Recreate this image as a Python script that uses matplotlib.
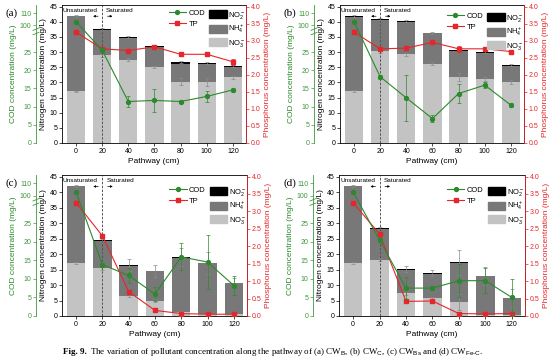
import numpy as np
import matplotlib
matplotlib.use('Agg')
import matplotlib.pyplot as plt
from matplotlib.patches import Patch
from matplotlib.lines import Line2D

plt.rcParams['font.family'] = ['Liberation Sans', 'DejaVu Sans']
plt.rcParams['mathtext.fontset'] = 'custom'
plt.rcParams['mathtext.rm'] = 'Liberation Sans'
plt.rcParams['mathtext.it'] = 'Liberation Sans:italic'
plt.rcParams['mathtext.bf'] = 'Liberation Sans:bold'

pathway = [0, 20, 40, 60, 80, 100, 120]

# (a)
no3_a = [17.0, 28.9, 27.5, 25.1, 20.2, 20.0, 21.6]
nh4_a = [24.8, 8.2, 7.1, 6.6, 6.0, 6.0, 3.5]
no2_a = [0.1, 0.5, 0.3, 0.3, 0.5, 0.5, 0.2]
no3_err_a = [0.3, 0.5, 0.5, 0.4, 1.2, 1.3, 0.6]
tot_err_a = [0.3, 0.3, 0.3, 0.3, 0.3, 0.3, 0.3]
tp_a = [3.25, 2.76, 2.71, 2.82, 2.6, 2.6, 2.38]
tp_err_a = [0.03, 0.03, 0.03, 0.03, 0.03, 0.03, 0.08]
cod_a = [103.0, 25.5, 11.4, 11.7, 11.4, 12.8, 14.6]
cod_err_a = [1.0, 0.5, 1.5, 3.2, 0.5, 1.5, 0.6]

# (b)
no3_b = [17.1, 30.3, 29.2, 26.2, 21.8, 21.2, 20.1]
nh4_b = [24.6, 10.2, 10.7, 10.0, 8.5, 8.6, 5.3]
no2_b = [0.1, 0.3, 0.3, 0.2, 0.2, 0.3, 0.2]
no3_err_b = [0.3, 0.5, 0.5, 0.5, 1.3, 0.6, 0.6]
tot_err_b = [0.3, 0.3, 0.3, 0.3, 0.3, 0.3, 0.3]
tp_b = [3.25, 2.76, 2.78, 2.95, 2.76, 2.76, 2.68]
tp_err_b = [0.03, 0.03, 0.03, 0.03, 0.08, 0.05, 0.03]
cod_b = [103.0, 18.2, 12.4, 6.7, 13.6, 15.9, 10.4]
cod_err_b = [1.0, 0.6, 6.4, 1.0, 2.5, 0.9, 0.5]

# (c)
no3_c = [17.1, 15.5, 6.5, 5.0, 1.2, 0.6, 0.8]
nh4_c = [24.7, 8.8, 9.7, 9.5, 17.6, 16.4, 9.8]
no2_c = [0.1, 0.3, 0.3, 0.1, 0.2, 0.1, 0.1]
no3_err_c = [0.3, 0.5, 0.5, 0.5, 0.3, 0.2, 0.2]
tot_err_c = [0.3, 0.3, 2.0, 2.0, 3.0, 3.5, 1.5]
tp_c = [3.25, 2.3, 0.7, 0.16, 0.07, 0.05, 0.05]
tp_err_c = [0.03, 0.03, 0.05, 0.03, 0.02, 0.02, 0.02]
cod_c = [103.0, 13.8, 10.9, 5.9, 15.9, 14.5, 8.2]
cod_err_c = [1.0, 0.5, 2.0, 2.0, 3.6, 7.2, 2.5]

# (d)
no3_d = [17.1, 18.2, 7.3, 5.7, 4.5, 0.4, 0.4]
nh4_d = [24.7, 9.8, 7.6, 7.9, 12.5, 12.4, 5.3]
no2_d = [0.1, 0.4, 0.3, 0.2, 0.3, 0.1, 0.1]
no3_err_d = [0.3, 0.5, 0.5, 0.5, 2.5, 0.2, 0.2]
tot_err_d = [0.3, 0.3, 1.0, 1.0, 4.0, 3.0, 3.0]
tp_d = [3.25, 2.35, 0.42, 0.43, 0.07, 0.06, 0.07]
tp_err_d = [0.03, 0.03, 0.03, 0.03, 0.02, 0.02, 0.02]
cod_d = [103.0, 20.4, 7.5, 7.5, 9.5, 9.5, 5.0]
cod_err_d = [1.0, 0.5, 3.0, 0.5, 4.5, 3.3, 5.0]

W, H = 554, 360
fig = plt.figure(figsize=(W / 100, H / 100), dpi=100)

green = '#2b8a2b'
axgreen = '#3c9a3c'
red = '#e5262a'
c_no3 = '#c3c3c3'
c_nh4 = '#787878'

NMAX = 45.5
# broken COD axis: 0-30 below the break, 97-... above
cod_pts = [0, 30, 97, 130]
pos_pts = [0, 36, 37.6, 50.8]


def cod_fwd(c):
    return np.interp(c, cod_pts, pos_pts)


def cod_inv(p):
    return np.interp(p, pos_pts, cod_pts)


def rect(l, r, t, b):
    return [l / W, 1 - b / H, (r - l) / W, (b - t) / H]


def panel(box, tag, no3, nh4, no2, no3_err, tot_err, tp, tp_err, cod, cod_err, leg_dy):
    l, r, t, b = box
    ax = fig.add_axes(rect(l, r, t, b))
    x = np.array(pathway)
    no3 = np.array(no3)
    nh4 = np.array(nh4)
    ekw = dict(ecolor='#8a8a8a', elinewidth=0.5, capsize=1.2, capthick=0.5)
    ax.bar(x, no3, width=14, color=c_no3, yerr=no3_err, error_kw=ekw)
    ax.bar(x, nh4, width=14, bottom=no3, color=c_nh4)
    ax.bar(x, no2, width=14, bottom=no3 + nh4, color='black', yerr=tot_err, error_kw=ekw)
    ax.set_xlim(-10.7, 130)
    ax.set_ylim(0, NMAX)
    ax.set_xticks(pathway)
    ax.set_yticks(range(0, 50, 5))
    ax.tick_params(labelsize=5, length=2, width=0.5, pad=1.5)
    ax.set_xlabel('Pathway (cm)', fontsize=6, labelpad=2)
    ax.set_ylabel('Nitrogen concentration (mg/L)', fontsize=6, labelpad=1.5)
    for s in ax.spines.values():
        s.set_linewidth(0.6)
    ax.axvline(20, color='#555555', lw=0.7, ls=(0, (2.5, 1.5)))
    ax.text(16.5, 43.8, 'Unsaturated', fontsize=4.6, ha='right', va='center')
    ax.text(23, 43.8, 'Saturated', fontsize=4.6, ha='left', va='center')
    ax.annotate('', xy=(11, 41.8), xytext=(19, 41.8),
                arrowprops=dict(arrowstyle='-|>', lw=0.5, color='black', mutation_scale=3))
    ax.annotate('', xy=(30, 41.8), xytext=(22, 41.8),
                arrowprops=dict(arrowstyle='-|>', lw=0.5, color='black', mutation_scale=3))

    # phosphorus
    axp = ax.twinx()
    axp.errorbar(x, tp, yerr=tp_err, color=red, marker='s', ms=2.6, lw=0.8,
                 elinewidth=0.5, capsize=1.2, capthick=0.5)
    axp.set_ylim(0, NMAX / 11.25)
    axp.set_yticks(np.arange(0, 4.01, 0.5))
    axp.yaxis.set_major_formatter(plt.FormatStrFormatter('%.1f'))
    axp.tick_params(labelsize=5, length=2, width=0.5, pad=1.5, colors=red)
    axp.set_ylabel('Phosphorus concentration (mg/L)', fontsize=6, color=red, labelpad=2)
    for s in axp.spines.values():
        s.set_visible(False)
    axp.spines['right'].set_visible(True)
    axp.spines['right'].set_color(red)
    axp.spines['right'].set_linewidth(0.6)

    # COD on broken outer left axis
    axc = ax.twinx()
    axc.set_yscale('function', functions=(cod_fwd, cod_inv))
    axc.errorbar(x, cod, yerr=cod_err, color=green, marker='o', ms=2.8, lw=0.8,
                 elinewidth=0.5, capsize=1.2, capthick=0.5)
    axc.set_ylim(0, float(cod_inv(NMAX)))
    axc.set_yticks([0, 5, 10, 15, 20, 25, 100, 110])
    axc.set_yticklabels(['0', '5', '10', '15', '20', '25', '100', '110'])
    axc.yaxis.set_minor_locator(plt.NullLocator())
    axc.yaxis.set_ticks_position('left')
    axc.yaxis.set_label_position('left')
    for s in axc.spines.values():
        s.set_visible(False)
    axc.spines['left'].set_visible(True)
    axc.spines['left'].set_position(('outward', 18.7))
    axc.spines['left'].set_color(axgreen)
    axc.spines['left'].set_linewidth(0.6)
    axc.tick_params(labelsize=5, length=2, width=0.5, pad=1.5, colors=axgreen)
    axc.set_ylabel('COD concentration (mg/L)', fontsize=6, color=green, labelpad=2)
    xs = -26 / (r - l)
    yb = 36.8 / NMAX
    dx = 3 / (r - l)
    dy = 1.2 / (b - t)
    for k in (-1, 1):
        axc.plot([xs - dx, xs + dx], [yb + k * 2.2 / (b - t) - dy, yb + k * 2.2 / (b - t) + dy],
                 transform=axc.transAxes, color=axgreen, lw=0.6, clip_on=False)

    h1 = [Line2D([], [], color=green, marker='o', ms=2.8, lw=0.8),
          Line2D([], [], color=red, marker='s', ms=2.6, lw=0.8)]
    leg1 = axc.legend(h1, ['COD', 'TP'], loc='upper left', fontsize=5.4, frameon=False,
                      bbox_to_anchor=(0.56, 1 - leg_dy / (b - t)), borderpad=0,
                      handlelength=2.3, labelspacing=0.45, handletextpad=0.3)
    axc.add_artist(leg1)
    h2 = [Patch(color='black'), Patch(color=c_nh4), Patch(color=c_no3)]
    axc.legend(h2, [r'NO$_2^-$', r'NH$_4^+$', r'NO$_3^-$'], loc='upper left', fontsize=5.4,
               frameon=False, bbox_to_anchor=(0.78, 1 - leg_dy / (b - t)), borderpad=0,
               handlelength=2.3, handleheight=1.2, labelspacing=0.3, handletextpad=0.25)

    fig.text((l - 56) / W, 1 - (t + 8) / H, tag, fontsize=8, family='Liberation Serif', va='center')


panel((62, 246, 5, 143), '(a)', no3_a, nh4_a, no2_a, no3_err_a, tot_err_a,
      tp_a, tp_err_a, cod_a, cod_err_a, 1)
panel((340, 524, 5, 143), '(b)', no3_b, nh4_b, no2_b, no3_err_b, tot_err_b,
      tp_b, tp_err_b, cod_b, cod_err_b, 4)
panel((62, 247, 175, 316), '(c)', no3_c, nh4_c, no2_c, no3_err_c, tot_err_c,
      tp_c, tp_err_c, cod_c, cod_err_c, 8)
panel((339, 525, 175, 316), '(d)', no3_d, nh4_d, no2_d, no3_err_d, tot_err_d,
      tp_d, tp_err_d, cod_d, cod_err_d, 8)

fig.text(63 / W, 1 - 352 / H, 'Fig. 9.', fontsize=6.5, family='Liberation Serif',
         weight='bold', va='center')
fig.text(90 / W, 1 - 352 / H,
         r'The variation of pollutant concentration along the pathway of (a) CW$_{\mathrm{B}}$, '
         r'(b) CW$_{\mathrm{C}}$, (c) CW$_{\mathrm{Bs}}$ and (d) CW$_{\mathrm{Fe\text{-}C}}$.',
         fontsize=6.5, family='Liberation Serif', va='center')

fig.savefig('out.png', dpi=100)
